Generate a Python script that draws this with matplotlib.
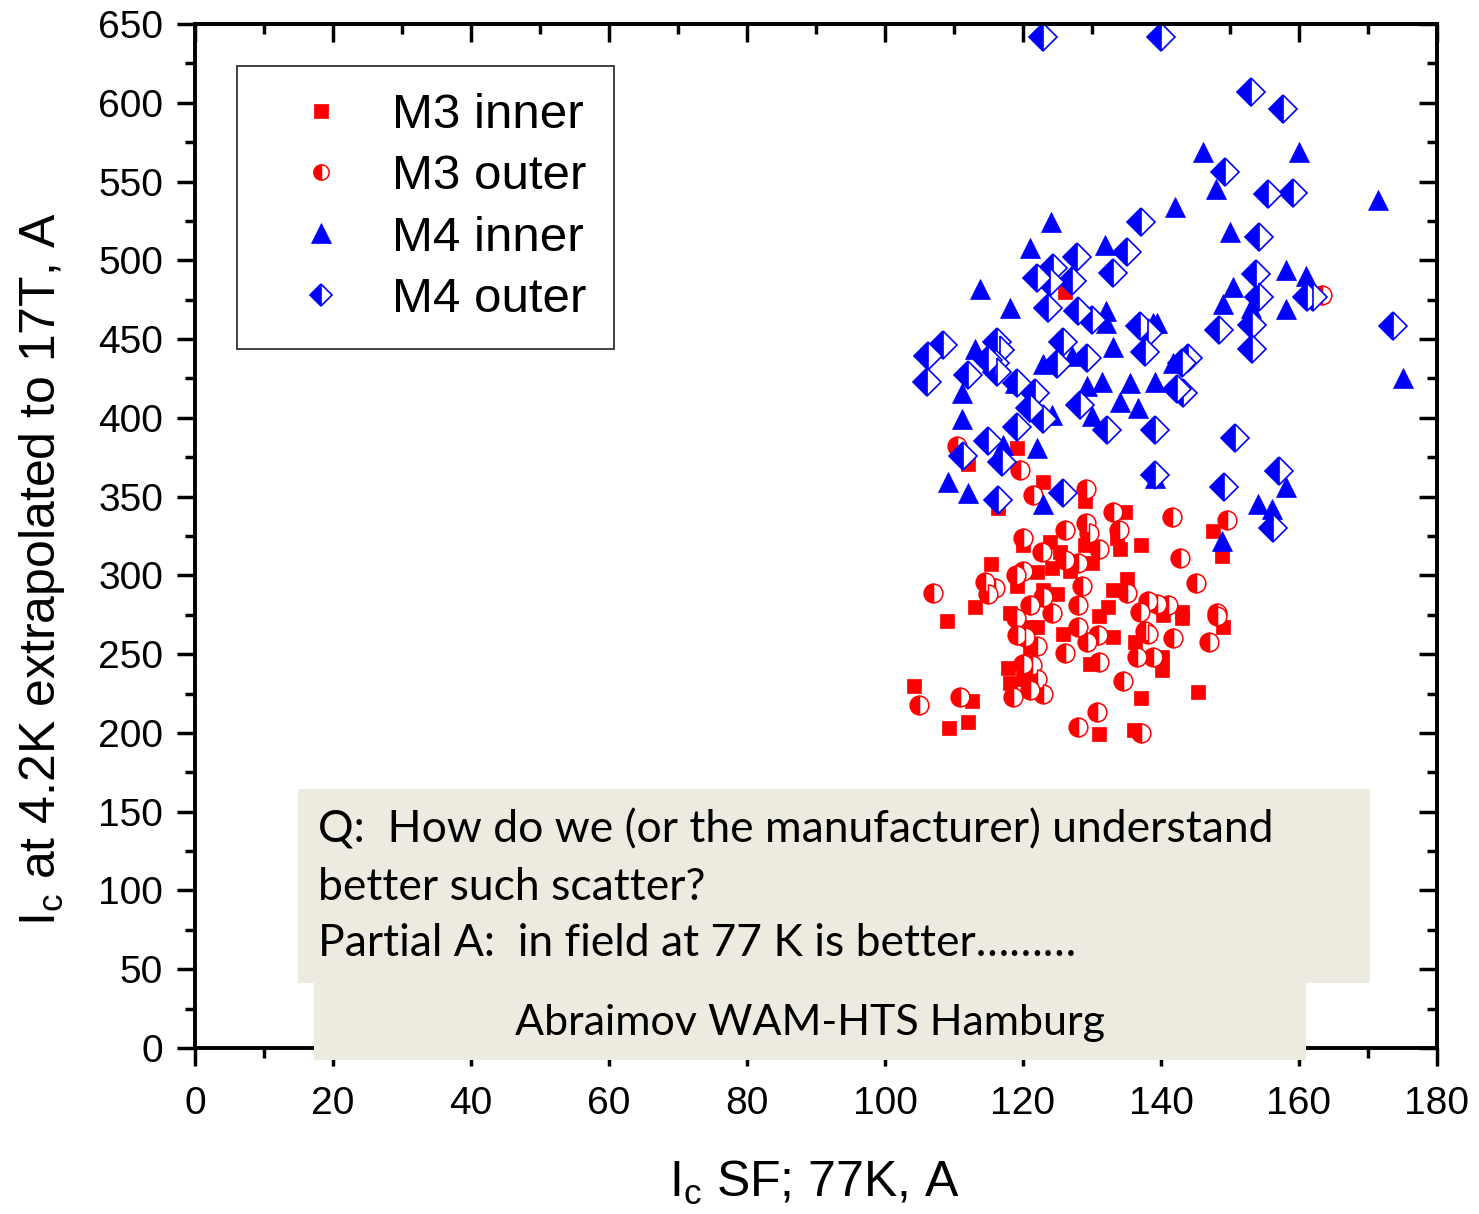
import matplotlib
matplotlib.use("Agg")
import matplotlib.pyplot as plt
from matplotlib.patches import Rectangle
from matplotlib.ticker import MultipleLocator
from matplotlib.lines import Line2D

plt.rcParams['font.family'] = ['Liberation Sans', 'DejaVu Sans']
plt.rcParams['mathtext.fontset'] = 'custom'
plt.rcParams['mathtext.rm'] = 'Liberation Sans'

# M3 inner (filled squares)
m3_inner_x = [126.1, 119.1, 112.0, 116.4, 122.9, 129.0, 134.8, 147.5, 148.8, 120.0,
              123.9, 125.4, 124.2, 126.8, 130.0, 129.0, 134.1, 137.1, 133.6, 115.4,
              122.0, 113.0, 109.0, 119.1, 122.9, 124.9, 118.1, 121.0, 122.0, 125.8,
              131.0, 132.3, 133.0, 135.1, 133.0, 140.3, 143.0, 143.0, 136.2, 149.0,
              117.8, 118.1, 120.0, 121.0, 129.7, 140.1, 140.1, 104.2, 112.6, 112.0,
              109.3, 137.1, 145.4, 131.0, 136.1]
m3_inner_y = [480, 381, 371, 343, 359, 347, 340, 328, 312, 319,
              321, 315, 305, 303, 308, 319, 317, 319, 324, 307,
              302, 280, 271, 293, 291, 288, 276, 267, 267, 263,
              274, 280, 261, 298, 291, 275, 277, 273, 258, 267,
              241, 232, 234, 254, 244, 240, 248, 230, 220, 207,
              203, 222, 226, 199, 202]

# M3 outer (half filled circles)
m3_outer_x = [163.3, 110.4, 119.6, 121.4, 129.1, 133.0, 141.6, 149.6, 126.1, 120.0,
              129.1, 129.6, 133.9, 131.0, 122.8, 126.1, 128.0, 142.8, 120.0, 119.0,
              114.5, 115.9, 114.9, 107.0, 128.6, 128.0, 135.1, 145.1, 121.0, 122.9,
              124.2, 119.0, 138.1, 139.4, 141.0, 137.0, 148.1, 148.1, 128.0, 130.9,
              119.1, 120.3, 137.7, 138.1, 129.3, 122.0, 141.7, 147.0, 126.1, 136.5,
              138.8, 131.0, 120.0, 121.3, 122.0, 121.0, 122.9, 118.6, 110.9, 104.9,
              134.5, 130.7, 128.0, 137.1]
m3_outer_y = [478, 382, 367, 351, 355, 340, 337, 335, 329, 324,
              333, 327, 329, 317, 315, 310, 308, 311, 303, 300,
              296, 292, 288, 289, 293, 281, 289, 295, 281, 286,
              276, 273, 284, 282, 281, 277, 276, 274, 267, 262,
              262, 261, 265, 263, 258, 255, 260, 258, 251, 248,
              248, 245, 244, 243, 234, 227, 225, 223, 223, 218,
              233, 213, 204, 200]

# M4 inner (filled triangles)
m4_inner_x = [146.1, 160.0, 148.0, 142.0, 171.4, 124.1, 121.0, 131.9, 150.0, 158.1,
              161.0, 150.4, 149.0, 153.0, 158.1, 175.1, 158.1, 154.1, 156.1, 148.8,
              118.1, 132.0, 132.0, 138.8, 133.0, 122.9, 127.1, 141.7, 113.8, 113.0,
              111.2, 111.2, 117.1, 122.0, 109.1, 112.0, 122.9, 139.4, 129.3, 131.4,
              135.5, 139.1, 134.1, 136.7, 130.0, 124.2, 139.1, 118.8]
m4_inner_y = [569, 569, 545, 534, 538, 524, 508, 510, 518, 494,
              490, 483, 472, 470, 469, 425, 356, 345, 342, 322,
              470, 468, 460, 460, 445, 434, 439, 435, 482, 444,
              416, 399, 383, 381, 359, 352, 345, 460, 420, 423,
              422, 423, 410, 406, 401, 402, 362, 422]

# M4 outer (half filled diamonds)
m4_outer_x = [122.9, 140.0, 153.0, 157.7, 149.3, 155.5, 159.1, 154.2, 153.8, 154.2,
              161.2, 162.0, 148.4, 153.2, 153.2, 143.9, 143.0, 143.2, 173.6, 150.7,
              157.1, 149.1, 156.2, 137.1, 135.1, 127.8, 124.3, 122.0, 133.0, 123.9,
              127.1, 123.6, 128.0, 130.0, 137.0, 138.1, 125.8, 129.3, 124.9, 137.7,
              116.2, 116.7, 115.9, 106.2, 108.4, 106.1, 112.0, 114.9, 116.2, 119.1,
              121.7, 121.0, 122.9, 119.1, 114.9, 117.0, 111.3, 116.4, 125.8, 128.3,
              132.2, 139.1, 142.3, 139.1]
m4_outer_y = [642, 642, 607, 596, 556, 542, 543, 515, 491, 477,
              477, 477, 456, 459, 444, 438, 435, 416, 458, 387,
              366, 356, 330, 524, 505, 502, 495, 489, 492, 486,
              487, 470, 468, 462, 458, 454, 448, 438, 434, 442,
              448, 443, 435, 439, 446, 423, 427, 437, 429, 422,
              416, 406, 399, 394, 385, 372, 376, 348, 352, 408,
              392, 392, 418, 364]

labels = ['M3 inner', 'M3 outer', 'M4 inner', 'M4 outer']
red = '#FF0000'
blue = '#0000FF'

W, H = 1479, 1214
fig = plt.figure(figsize=(W / 100, H / 100), dpi=100)
ax = fig.add_axes([195 / W, 1 - 1048 / H, 1242 / W, 1024 / H])

sq = dict(ls='none', marker='s', ms=9.5, mfc=red, mec=red, mew=0.5)
circ = dict(ls='none', marker='o', ms=13.5, mfc=red, mec=red, fillstyle='left',
            markerfacecoloralt='white', mew=1.1)
tri = dict(ls='none', marker='^', ms=14.5, mfc=blue, mec=blue, mew=0.5)
dia = dict(ls='none', marker='D', ms=14, mfc=blue, mec=blue, fillstyle='left',
           markerfacecoloralt='white', mew=1.2)

ax.plot(m3_inner_x, m3_inner_y, **sq)
ax.plot(m3_outer_x, m3_outer_y, **circ)
ax.plot(m4_inner_x, m4_inner_y, **tri)
ax.plot(m4_outer_x, m4_outer_y, **dia)

ax.set_xlim(0, 180)
ax.set_ylim(0, 650)
ax.xaxis.set_major_locator(MultipleLocator(20))
ax.xaxis.set_minor_locator(MultipleLocator(10))
ax.yaxis.set_major_locator(MultipleLocator(50))
ax.yaxis.set_minor_locator(MultipleLocator(25))

for s in ax.spines.values():
    s.set_linewidth(2.8)
ax.tick_params(which='major', direction='out', length=13, width=2.5, labelsize=28)
ax.tick_params(which='minor', direction='out', length=7, width=2.5)
ax.tick_params(axis='x', which='major', pad=14)
ax.tick_params(axis='y', which='major', pad=10)

# top and right ticks point inward
top = ax.secondary_xaxis('top')
top.xaxis.set_major_locator(MultipleLocator(20))
top.xaxis.set_minor_locator(MultipleLocator(10))
top.tick_params(which='major', direction='in', length=13, width=2.5, labeltop=False)
top.tick_params(which='minor', direction='in', length=7, width=2.5)
top.spines['top'].set_linewidth(2.8)
right = ax.secondary_yaxis('right')
right.yaxis.set_major_locator(MultipleLocator(50))
right.yaxis.set_minor_locator(MultipleLocator(25))
right.tick_params(which='major', direction='in', length=13, width=2.5, labelright=False)
right.tick_params(which='minor', direction='in', length=7, width=2.5)
right.spines['right'].set_linewidth(2.8)

ax.set_ylabel(r'I$_\mathrm{c}$ at 4.2K extrapolated to 17T, A', fontsize=36)
ax.set_xlabel(r'I$_\mathrm{c}$ SF; 77K, A', fontsize=36)
ax.yaxis.set_label_coords(-0.103, 0.467)
ax.xaxis.set_label_coords(0.499, -0.108)

handles = [Line2D([], [], **sq), Line2D([], [], **dict(circ, ms=11)),
           Line2D([], [], **tri), Line2D([], [], **dict(dia, ms=11.5))]
leg = ax.legend(handles, labels, loc='upper left', bbox_to_anchor=(0.0338, 0.959),
                borderaxespad=0, fontsize=35.5, frameon=True, fancybox=False,
                edgecolor='black', borderpad=0.55, handlelength=2.3,
                handletextpad=0.3, labelspacing=0.33, numpoints=1)
leg.get_frame().set_linewidth(1.3)

# grey note boxes (drawn over the bottom axis line)
box_c = '#EDEBE0'
fig.add_artist(Rectangle((298 / W, 1 - 983 / H), (1370 - 298) / W, (983 - 789) / H,
                         transform=fig.transFigure, color=box_c, lw=0, zorder=5))
fig.add_artist(Rectangle((314 / W, 1 - 1060 / H), (1306 - 314) / W, (1060 - 983) / H,
                         transform=fig.transFigure, color=box_c, lw=0, zorder=5))
note_font = ['Lato', 'DejaVu Sans']
note_lines = ['Q:  How do we (or the manufacturer) understand',
              'better such scatter?',
              'Partial A:  in field at 77 K is better………']
for i, line in enumerate(note_lines):
    fig.text(318 / W, 1 - (830 + 57 * i) / H, line, fontsize=32, family=note_font,
             ha='left', va='center', zorder=6)
fig.text(810 / W, 1 - 1023 / H, 'Abraimov WAM-HTS Hamburg', fontsize=31,
         family=note_font, ha='center', va='center', zorder=6)

fig.savefig('out.png', dpi=100)
